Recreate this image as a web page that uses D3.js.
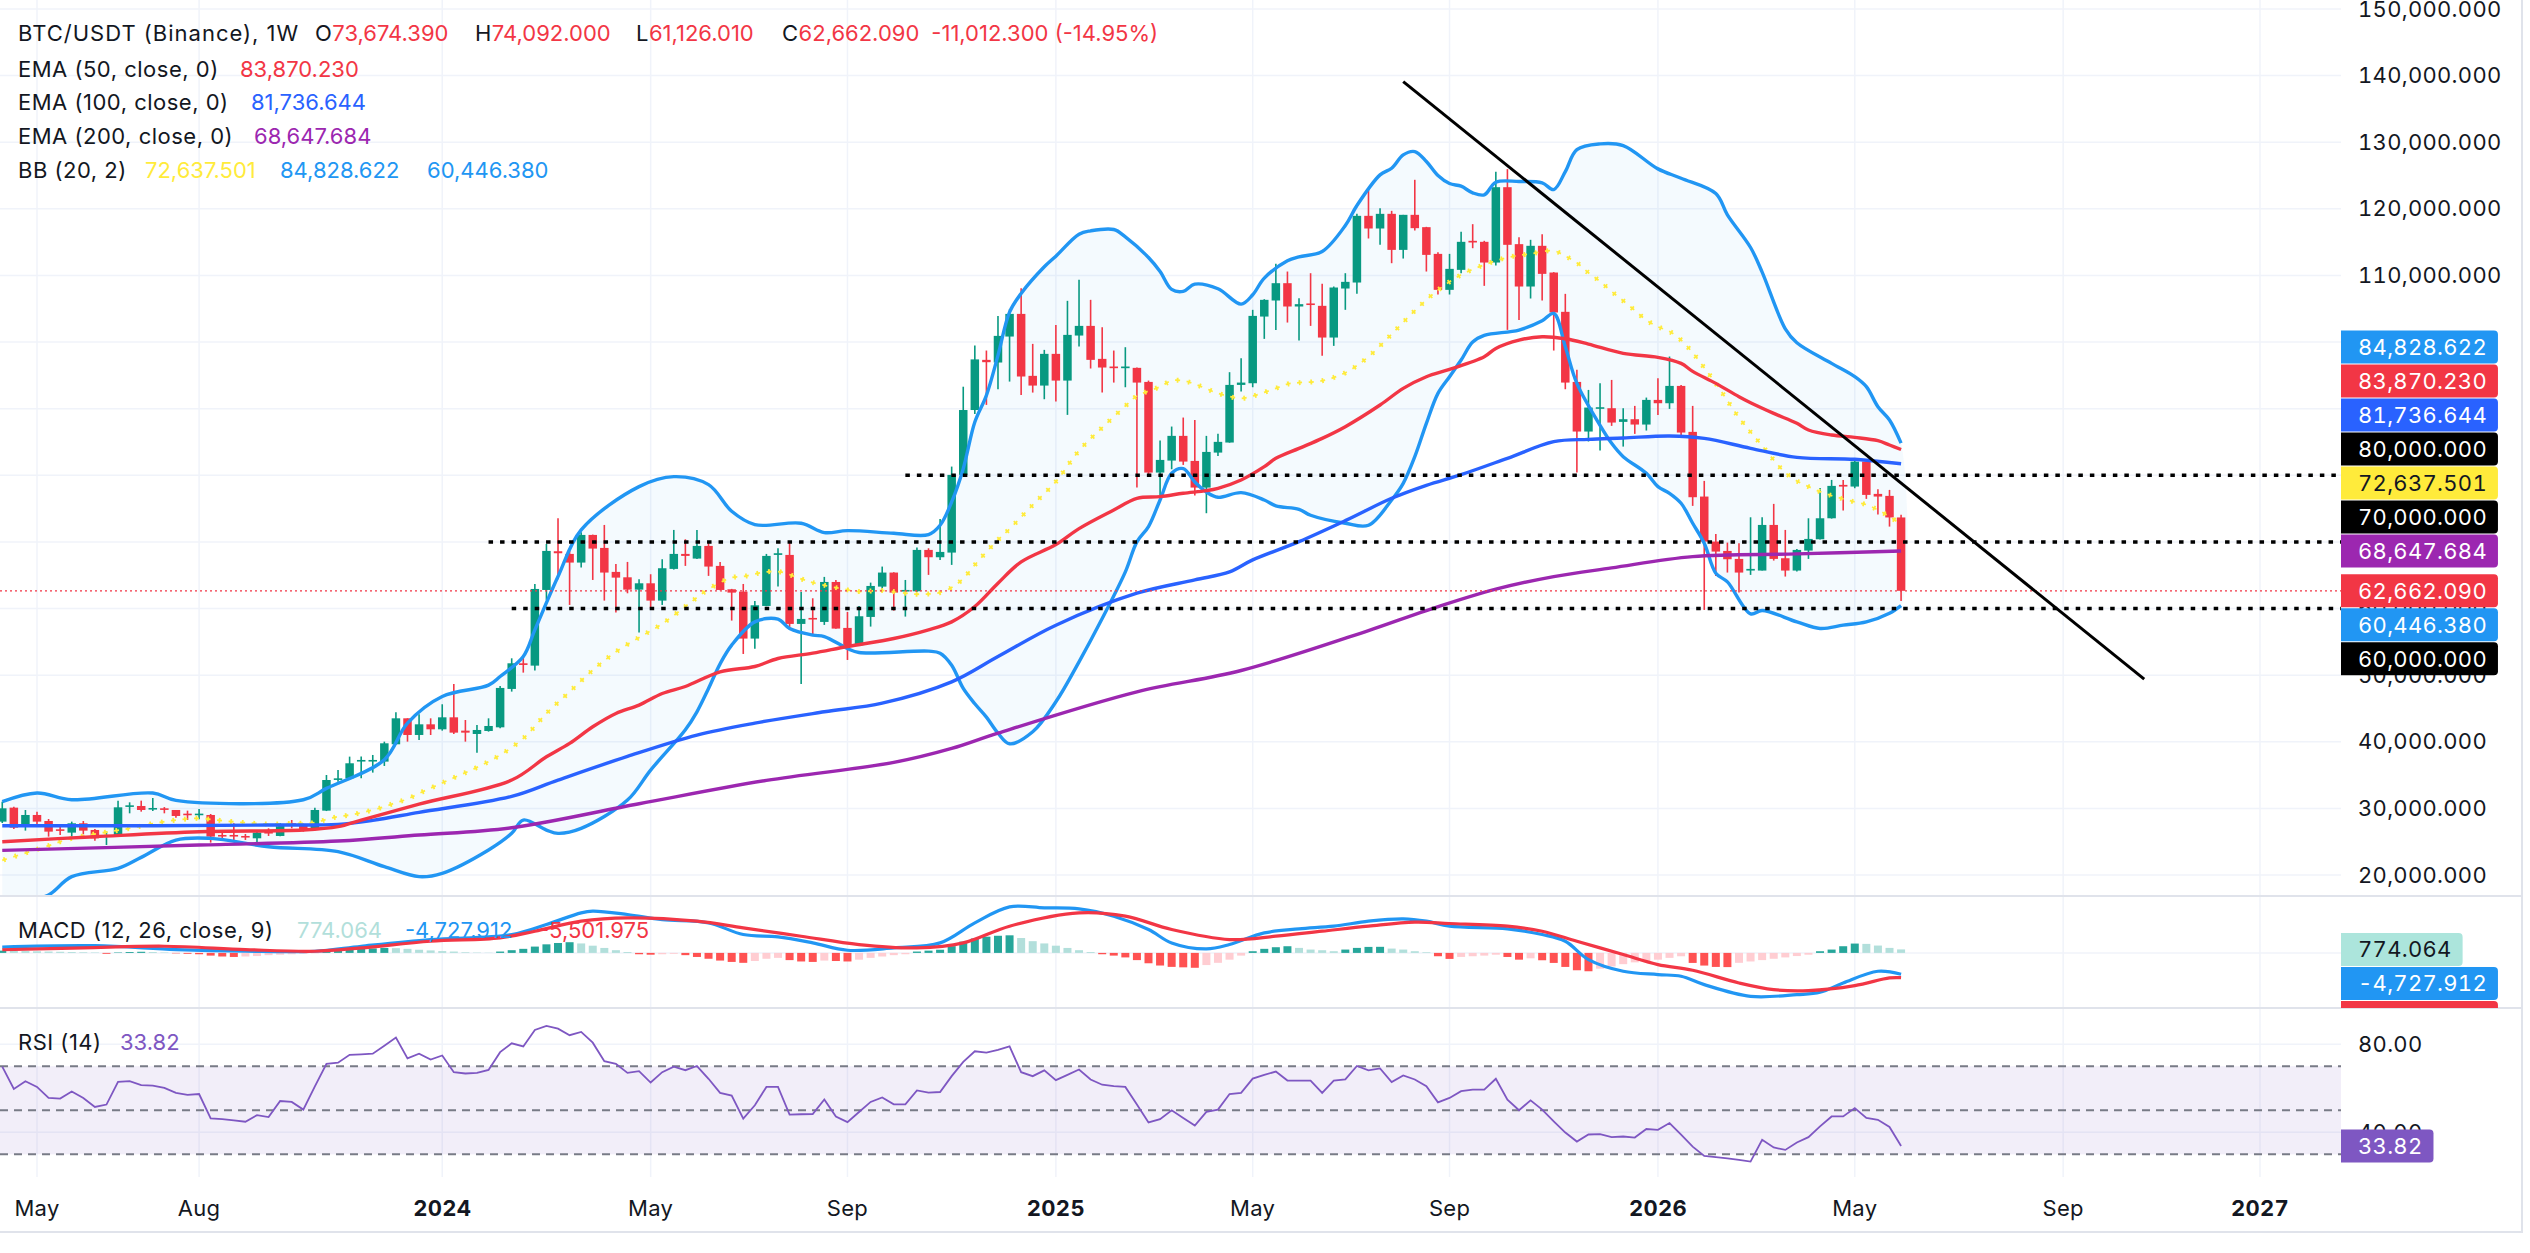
<!DOCTYPE html>
<html>
<head>
<meta charset="utf-8">
<script src="https://cdnjs.cloudflare.com/ajax/libs/d3/7.8.5/d3.min.js"></script>
<style>
  body { margin: 0; background: #fff; }
  svg { display: block; font-family: Inter, "Noto Sans", sans-serif; }
  .num { font-feature-settings: "tnum" 1; }
</style>
</head>
<body>
<div id="chart"></div>
<script>
/* BTC/USDT weekly candles with EMA, Bollinger bands, MACD and RSI panes */

// ---- data ----
// weekly candles [open, high, low, close], first bar is the week of 2023-04-10
var firstWeek = "2023-04-10";
var ohlc = [
  [28010,31010,27800,30010],[30110,30260,26910,27110],[27260,29760,26660,29010],[29010,29510,27410,28010],
  [28110,28410,25760,26510],[26860,27260,26010,26660],[26360,28010,25760,27760],[27760,28110,26110,26660],
  [26760,26910,25160,25510],[25760,26510,24500,25960],[25860,31160,25760,30160],[30260,30910,29260,30460],
  [30360,31160,29510,29760],[29910,31560,29610,30060],[30010,30200,29260,29860],[29760,29760,28610,28860],
  [29210,29660,28260,29010],[29010,29910,28360,29210],[29010,29160,24860,25760],[26010,26510,25160,25810],
  [26010,27760,25160,25810],[25860,26160,25260,25660],[25510,26660,24660,26360],[26460,27010,25860,26260],
  [25860,27760,25800,27660],[27760,28260,27010,27560],[27660,27700,26510,26660],[26760,30110,26700,29760],
  [29660,35010,29600,34260],[34310,35760,34010,34510],[34510,37770,34360,36770],[37070,37770,34510,37270],
  [37070,38020,35370,37270],[37020,40020,36370,39770],[39620,44420,39600,43520],[43520,43520,40020,41020],
  [41020,44120,40270,42620],[42620,43520,41020,41870],[41870,45630,41670,43670],[43670,48680,41170,41370],
  [41670,43270,40020,41370],[41170,42520,38370,41770],[41620,43520,41520,42370],[42170,48380,42020,48080],
  [47930,52530,47530,51780],[51780,52780,50380,51530],[51430,63690,50680,62940],[62790,69700,61290,68650],
  [68600,73550,64390,68300],[68200,68650,60540,66900],[66900,71450,66150,71050],[71050,71100,64290,69000],
  [69100,72550,61190,65400],[65500,66700,59390,64640],[64690,67000,62290,62840],[62840,64390,56390,63790],
  [63790,65150,60040,61190],[61190,67400,60540,66050],[65950,71800,65850,68200],[68200,70400,66400,67900],
  [67500,71800,67450,69400],[69400,69900,64900,66300],[66400,67000,62750,62790],[62890,62950,58190,62390],
  [62540,63690,53180,55490],[55490,61140,53980,60490],[60390,68200,60350,67900],[68050,69050,63290,68300],
  [68050,69900,56890,57690],[57690,62490,48680,58440],[58590,61540,55890,58390],[57990,64750,57540,63990],
  [63990,64290,56950,56990],[57090,59490,52280,54480],[54480,60390,54400,58840],[58740,63890,57290,63390],
  [63290,66300,62540,65400],[65400,65450,59690,62390],[62590,64290,58790,62790],[62590,69150,62500,68800],
  [68800,69050,65050,67700],[67700,73450,67300,68500],[68400,81310,66550,80060],[80060,93300,79800,89800],
  [89800,99500,89200,97400],[97330,98730,90570,96980],[96930,103930,92920,100930],[100830,104940,94070,104230],
  [104230,108090,92070,94830],[94930,99730,92420,93470],[93470,98830,91420,98230],[98230,102580,91070,94220],
  [94220,106190,89070,101080],[100980,109340,99330,102430],[102430,106340,96030,97330],[97480,102230,92420,96180],
  [96330,98730,93920,96080],[96080,99230,93220,96330],[96130,96200,78160,93920],[94020,94220,79810,80410],
  [80410,85220,76310,82310],[82210,87320,80910,85920],[85920,88670,81560,82060],[82160,88320,76960,78160],
  [78160,85920,74310,83510],[83410,86220,82910,85020],[84920,95480,84900,93570],[93570,97580,92570,93920],
  [93820,104840,93220,103930],[103830,106440,100480,106340],[106240,111740,101830,108840],[108840,110590,102930,105340],
  [105340,106590,100230,105690],[105800,110340,102430,105600],[105440,108740,97930,100680],[100680,108340,99430,108190],
  [108040,110340,104840,109040],[108940,119250,107240,118950],[118950,122950,115550,117050],[117050,120100,114600,119250],
  [119250,119700,111840,113840],[113840,119100,112540,119100],[119100,124360,116750,117100],[117250,117300,110590,113090],
  [113240,113490,107140,107840],[107840,113240,107140,110990],[110840,116550,110340,115050],[115200,117700,114090,114950],
  [115050,115200,108440,111940],[111940,125560,111490,123250],[123250,125960,101830,114600],[114700,115750,103330,108340],
  [108340,115350,106540,114450],[114450,116200,106240,110240],[110440,110500,98730,104440],[104540,107240,92920,93920],
  [94020,95830,80410,86570],[86570,92820,85070,90170],[90070,93820,83710,90220],[90070,94320,87420,87920],
  [88020,90070,84310,88420],[88420,90420,86220,87620],[87620,91670,86720,91320],[91320,94580,89070,90820],
  [90820,97830,89970,93420],[93420,93570,85920,86420],[86520,90420,75410,76710],[76810,79160,59790,70050],
  [70050,71200,64900,68550],[68650,69900,65400,67400],[67450,69800,62390,65400],[65700,73700,65050,65950],
  [65700,73700,65700,72550],[72550,75710,67200,67450],[67550,71800,64800,65700],[65700,68950,65550,68800],
  [68700,73550,67450,70450],[70400,78110,70350,73550],[73550,79310,73500,78410],[78560,79310,74710,78310],
  [78310,82560,78060,82060],[82060,82100,76460,77060],[77210,77910,74100,76810],[76910,77810,72300,73674.39],
  [73674.39,74092,61126.01,62662.09]
];

// line series as [week number counted from 2023-05-01, value]
var week0 = "2023-05-01";
var ema50 = [[-3,25000],[5,25750],[14,26500],[23,26750],[26,27250],[28,28250],[33,30650],[41,34250],[44,37750],
  [46,39750],[48,42250],[50,44250],[52,45500],[54,47250],[56,48300],[59,50500],[62,51300],[64,52500],[67,53300],
  [70,54300],[74,55500],[77,56800],[79,58000],[81,60300],[83,63800],[85,67000],[88,69600],[90,72000],[93,74800],
  [95,76550],[97,76800],[99,77300],[101,77700],[102,78050],[104,79300],[106,81300],[107,82550],[109,84050],
  [111,85550],[113,87300],[116,90550],[118,93050],[120,94800],[122,95900],[125,97800],[126,99050],[128,100300],
  [130,100800],[132,100500],[134,99700],[137,98300],[140,97700],[142,96800],[143,95600],[145,93800],[147,91800],
  [148,90900],[150,89300],[152,87800],[153,86800],[155,86050],[157,85700],[159,85200],[160,84550],[161,83870.23]];
var ema100 = [[-3,27400],[10,27400],[20,27500],[26,27600],[29,28200],[33,29400],[41,31800],[45,34250],[51,37800],
  [57,41000],[62,42800],[68,44500],[73,45800],[79,49000],[83,52800],[88,57500],[95,62300],[100,64300],[103,65500],
  [105,67300],[109,70050],[113,73200],[117,76550],[120,78500],[123,80100],[127,82550],[131,85050],[134,85400],
  [137,85600],[141,85900],[144,85550],[148,84050],[152,82700],[157,82400],[161,81736.644]];
var ema200 = [[-3,23700],[14,24500],[26,25100],[33,26000],[41,27100],[52,30700],[63,34200],[74,36900],[79,39000],
  [83,41300],[95,47500],[104,50700],[115,56700],[120,59700],[126,62900],[131,64800],[136,66100],[143,67800],
  [152,68200],[161,68647.684]];
var bbUpper = [[-3,31000],[0,32300],[3,31300],[10,32300],[12,31200],[23,31300],[25,33000],[30,37300],[32,42800],
  [35,46800],[39,48500],[40,49800],[42,52800],[43,56800],[45,64800],[47,71800],[52,78300],[55,79800],[58,78600],
  [60,74600],[62,72600],[66,72800],[68,71400],[70,71700],[74,71300],[77,71100],[78,72500],[79,76000],[80,81000],
  [81,88000],[82,92000],[83,98000],[84,104500],[85,107300],[87,111300],[88,112900],[90,116200],[91,116700],
  [93,116900],[94,115800],[96,112700],[97,110600],[98,107900],[99,107600],[100,108700],[102,108000],[104,105700],
  [105,107100],[106,109600],[108,112200],[109,112800],[111,113600],[113,117500],[114,120500],[116,125100],
  [117,126100],[118,128100],[119,128600],[120,127100],[121,125000],[122,123800],[123,123400],[124,122400],
  [125,122100],[126,124000],[128,124100],[130,123900],[131,122900],[132,125600],[133,128900],[135,129760],
  [137,129500],[140,126000],[142,124600],[145,122300],[146,119100],[148,114200],[149,110500],[151,102000],
  [152,99900],[155,96800],[157,94800],[158,93300],[159,90300],[160,88300],[161,84828.622]];
var bbLower = [[-3,14500],[-1,16000],[1,17000],[3,19750],[7,21000],[9,22650],[12,25250],[15,25500],[20,24250],
  [26,23500],[30,21250],[33,19750],[35,20250],[39,23750],[41,26250],[42,28250],[44,26750],[45,26250],[47,27000],
  [51,31250],[53,35750],[56,41800],[57,44500],[58,48000],[59,51700],[60,54500],[62,58000],[64,58400],[65,57000],
  [67,56000],[68,55800],[70,54000],[71,53400],[77,53600],[78,53300],[79,51500],[80,48000],[81,45700],[82,43700],
  [83,41300],[84,39700],[86,41500],[88,46000],[90,52000],[92,58500],[94,65500],[95,70000],[96,72300],[97,76300],
  [98,80300],[99,81000],[100,79000],[101,77500],[102,76700],[104,77400],[106,76300],[107,75400],[109,74900],
  [110,74000],[113,72800],[115,72500],[117,76300],[118,78800],[119,82800],[120,87800],[121,92300],[122,94800],
  [123,97300],[124,100000],[125,101000],[128,101800],[130,103200],[131,104300],[132,99300],[133,93800],
  [135,87500],[136,84800],[137,82800],[139,80300],[140,78300],[141,77300],[142,75800],[143,72800],[144,69800],
  [145,65300],[146,64000],[148,59200],[149,59700],[152,58000],[154,57000],[156,57500],[158,58000],[160,59300],
  [161,60446.38]];
var bbBasis = [[-3,22200],[-1,23300],[1,24400],[3,25500],[8,27000],[10,27700],[12,28250],[14,28500],[16,28150],
  [18,27850],[20,27650],[22,27750],[24,27850],[25,28350],[26,28750],[27,29000],[28,29350],[29,29750],[30,30250],
  [31,30850],[32,31400],[33,32250],[36,34600],[38,36150],[40,38000],[42,40500],[44,44250],[46,47500],[48,50750],
  [50,53500],[52,55650],[54,57700],[56,60300],[57,61650],[58,62900],[60,64650],[61,64800],[62,65200],[64,65550],
  [66,64450],[67,63900],[70,62800],[71,62550],[73,62700],[75,62300],[76,62150],[77,62200],[78,62400],[79,63150],
  [80,64500],[81,66550],[82,68500],[83,70300],[84,71950],[86,75550],[88,79050],[90,83700],[92,87150],[94,90400],
  [95,91900],[97,93300],[98,94200],[99,94200],[100,93700],[101,93000],[102,92300],[104,91550],[105,91900],
  [106,92450],[107,93050],[108,93700],[109,93900],[111,94200],[113,95400],[115,97800],[117,101200],[119,104700],
  [121,107800],[123,110100],[125,111600],[127,112700],[129,113250],[131,113700],[132,112900],[133,111900],
  [134,110400],[135,109100],[136,107600],[137,106200],[138,104750],[139,103300],[140,102300],[141,101600],
  [142,100300],[143,98400],[144,96150],[145,93800],[146,91200],[147,88650],[148,86500],[149,84450],[150,82300],
  [151,80400],[152,79150],[153,78300],[154,77550],[155,76950],[156,76450],[157,76000],[158,75600],[159,74800],
  [160,73800],[161,72637.501]];

// MACD pane
var macdLine = [[-3,1300],[5,1600],[12,740],[18,370],[24,370],[28,1480],[34,2960],[41,4070],[44,6300],[47,8890],
  [48,9260],[51,8520],[54,7400],[58,6670],[61,4070],[64,3550],[67,2220],[70,590],[74,1110],[78,2220],[81,6670],
  [84,10220],[87,10000],[90,9780],[93,8150],[96,5190],[98,2220],[101,890],[103,1850],[106,4440],[109,5330],
  [112,5930],[115,7040],[118,7560],[120,7040],[122,5930],[127,5330],[130,4070],[132,2590],[134,-1480],[137,-4070],
  [140,-4810],[142,-5190],[144,-7040],[148,-9630],[152,-9260],[154,-8740],[156,-6670],[159,-4070],[161,-4727.912]];
var signalLine = [[-3,700],[4,1110],[11,1480],[18,740],[24,370],[28,1110],[34,2590],[40,3330],[43,4815],[47,7040],
  [51,7780],[57,7040],[61,5555],[66,3700],[71,1850],[76,1110],[80,2220],[84,5925],[90,8890],[94,8150],[98,5185],
  [103,2963],[107,3704],[111,4815],[115,5925],[119,6814],[122,6518],[127,5925],[130,4815],[133,2593],[137,-370],
  [140,-2593],[143,-3852],[147,-6667],[150,-8148],[153,-8370],[157,-7259],[160,-5555],[161,-5501.975]];
// histogram, one value per candle
var macdHist = [500,450,400,350,300,250,200,150,100,
  -200,100,200,250,200,
  100,-100,-200,-300,-600,-800,-900,-800,-700,-500,-400,-300,-200,-100,
  250,500,700,900,1000,1100,1050,900,700,550,400,300,150,80,50,
  300,600,900,1400,1900,2200,2370,2100,1600,1100,600,200,
  -300,-400,-300,-200,-500,-900,-1300,-1700,-2000,-2200,
  -1800,-1300,-1100,-1600,-1900,-2000,-1700,-1800,-1900,-1500,-1100,-800,-500,-300,
  300,500,700,1500,2500,3200,3600,3800,3900,3300,2600,2100,1600,1100,600,200,
  -300,-600,-1000,-1600,-2300,-2800,-3100,-3200,-3300,-2700,-2200,-1500,-600,
  370,900,1260,1480,1110,740,590,370,740,1110,1330,1350,960,740,370,150,
  -740,-1330,-890,-740,-600,-400,-900,-1500,-1200,-1630,-2220,-3110,-3850,-4070,-3500,-3000,-2500,-2100,-1800,-1500,-1100,-750,
  -2220,-2810,-3110,-3150,-2200,-1900,-1600,-1300,-1000,-700,-400,
  370,740,1480,2070,2000,1630,1110,774.064];

// RSI, one value per candle
var rsi = [69.8,59.7,63.2,60.6,55.6,55.3,58.5,55.6,51.5,52.6,62.9,63.2,61.4,
  61.2,60.2,57.9,57.0,57.4,46.3,46.0,45.4,44.8,47.8,46.9,54.2,53.8,50.3,60.9,
  71.1,71.6,75.2,75.4,75.7,79.3,83.0,73.6,75.7,73.0,74.9,67.3,66.7,67.0,68.3,
  76.4,80.4,79.0,86.5,88.3,87.1,84.1,85.6,80.7,72.3,71.1,67.0,67.8,62.6,67.3,
  69.8,68.2,70.1,64.3,57.9,56.7,46.2,52.3,60.6,60.6,48.0,48.2,48.3,54.9,47.2,
  44.6,49.2,53.8,55.8,52.7,52.7,59.0,58.0,58.3,65.5,72.0,76.8,76.2,77.4,79.0,
  67.3,65.5,68.1,63.7,66.1,68.5,64.0,61.6,61.0,60.6,52.6,44.5,46.0,50.0,46.5,
  43.1,49.3,50.3,57.4,57.9,64.4,66.1,67.6,63.5,63.5,63.5,57.9,63.5,64.0,70.1,
  68.1,69.0,62.8,65.8,64.0,60.9,53.6,55.6,58.7,59.4,59.4,64.3,54.8,50.0,54.5,
  50.3,45.0,39.9,35.8,39.0,39.2,37.8,38.1,37.6,41.5,41.1,44.2,38.9,33.5,29.3,
  28.7,28.2,27.5,26.7,36.6,33.1,32.0,35.4,37.8,42.7,47.2,47.2,51.0,46.5,45.7,42.4,33.82];

// drawings: horizontal levels [start week, price] and the falling trend line
var levels = [[75, 80000], [39, 70000], [41, 60000]];
var trendLine = [[118, 139100], [182, 49400]];

// axis ticks
var priceTicks = d3.range(20000, 150001, 10000);
var timeTicks = [["2023-05-01","May"],["2023-08-07","Aug"],["2024-01-01","2024"],["2024-05-06","May"],
  ["2024-09-02","Sep"],["2025-01-06","2025"],["2025-05-05","May"],["2025-09-01","Sep"],["2026-01-05","2026"],
  ["2026-05-04","May"],["2026-09-07","Sep"],["2027-01-04","2027"]];

// ---- layout ----
var W = 2530, H = 1253;
var paneR = 2341;
var mainP = {top: 0, bottom: 895};
var macdP = {top: 897, bottom: 1007};
var rsiP = {top: 1009, bottom: 1177};
var upC = "#089981", downC = "#f23645";
var textC = "#131722", gridC = "#f0f3fa";
var loc = d3.formatLocale({decimal: ".", thousands: ",", grouping: [3], currency: ["$", ""], minus: "-"});
var fmt = loc.format(",.3f");
var fmt2 = loc.format(".2f");
var axisFont = 22, legFont = 22;

var parse = d3.utcParse("%Y-%m-%d");
var d0 = parse(week0);
var dFirst = parse(firstWeek);
function wk(i) { return d3.utcDay.offset(d0, 7 * i); }

var svg = d3.select("#chart").append("svg")
    .attr("width", W)
    .attr("height", H);

var x = d3.scaleUtc()
    .domain([d0, parse("2027-01-04")])
    .range([37, 2260]);
var y = d3.scaleLinear().domain([20000, 150000]).range([875, 9]);
var yM = d3.scaleLinear().domain([-12000, 12400]).range([macdP.bottom, macdP.top]);
var yR = d3.scaleLinear().domain([19.7, 96]).range([rsiP.bottom, rsiP.top]);

var candles = ohlc.map(function (d, k) {
  return {date: d3.utcDay.offset(dFirst, 7 * k), o: d[0], h: d[1], l: d[2], c: d[3]};
});

// clip paths for the panes
var defs = svg.append("defs");
[["clipMain", mainP], ["clipMacd", macdP], ["clipRsi", rsiP]].forEach(function (c) {
  defs.append("clipPath").attr("id", c[0]).append("rect")
      .attr("x", 0).attr("y", c[1].top).attr("width", paneR).attr("height", c[1].bottom - c[1].top);
});
defs.append("clipPath").attr("id", "clipMacdAxis").append("rect")
    .attr("x", paneR).attr("y", macdP.top).attr("width", 200).attr("height", macdP.bottom - macdP.top + 1);

// ---- grid ----
var grid = svg.append("g");
[mainP, macdP, rsiP].forEach(function (p) {
  grid.selectAll(null).data(timeTicks).join("line")
      .attr("x1", function (d) { return x(parse(d[0])); })
      .attr("x2", function (d) { return x(parse(d[0])); })
      .attr("y1", p.top).attr("y2", p.bottom)
      .attr("stroke", gridC).attr("stroke-width", 1.5);
});
grid.selectAll(null).data(priceTicks).join("line")
    .attr("x1", 0).attr("x2", paneR)
    .attr("y1", function (d) { return y(d); }).attr("y2", function (d) { return y(d); })
    .attr("stroke", gridC).attr("stroke-width", 1.5);
grid.selectAll(null).data([80, 40]).join("line")
    .attr("x1", 0).attr("x2", paneR)
    .attr("y1", function (d) { return yR(d); }).attr("y2", function (d) { return yR(d); })
    .attr("stroke", gridC).attr("stroke-width", 1.5);
grid.append("line").attr("x1", 0).attr("x2", paneR)
    .attr("y1", yM(0)).attr("y2", yM(0))
    .attr("stroke", gridC).attr("stroke-width", 1.5);

// ---- main pane ----
var gMain = svg.append("g").attr("clip-path", "url(#clipMain)");
var curve = d3.curveCatmullRom.alpha(0.5);
function priceLine(sy) {
  return d3.line().x(function (d) { return x(wk(d[0])); }).y(function (d) { return sy(d[1]); }).curve(curve);
}
var pl = priceLine(y);

// bollinger fill
gMain.append("path")
    .attr("d", pl(bbUpper.concat(bbLower.slice().reverse())) + "Z")
    .attr("fill", "rgba(33,150,243,0.05)");

// candles
var bw = 8.5;
var cg = gMain.append("g");
cg.selectAll("line").data(candles).join("line")
    .attr("x1", function (d) { return x(d.date); })
    .attr("x2", function (d) { return x(d.date); })
    .attr("y1", function (d) { return y(d.h); })
    .attr("y2", function (d) { return y(d.l); })
    .attr("stroke", function (d) { return d.c >= d.o ? upC : downC; })
    .attr("stroke-width", 1.6);
cg.selectAll("rect").data(candles).join("rect")
    .attr("x", function (d) { return x(d.date) - bw / 2; })
    .attr("width", bw)
    .attr("y", function (d) { return y(Math.max(d.o, d.c)); })
    .attr("height", function (d) { return Math.max(1.6, Math.abs(y(d.o) - y(d.c))); })
    .attr("fill", function (d) { return d.c >= d.o ? upC : downC; });

// bollinger basis drawn as small crosses
gMain.append("path").attr("d", pl(bbBasis)).attr("fill", "none")
    .attr("stroke", "#ffeb3b").attr("stroke-width", 1.8).attr("stroke-dasharray", "5 6.578");
gMain.append("path").attr("d", pl(bbBasis)).attr("fill", "none")
    .attr("stroke", "#ffeb3b").attr("stroke-width", 5)
    .attr("stroke-dasharray", "1.8 9.778").attr("stroke-dashoffset", -1.6);

// bands and moving averages
[[bbUpper, "#2196f3"], [bbLower, "#2196f3"], [ema200, "#9c27b0"], [ema100, "#2962ff"], [ema50, "#f23645"]]
  .forEach(function (s) {
    gMain.append("path").attr("d", pl(s[0])).attr("fill", "none")
        .attr("stroke", s[1]).attr("stroke-width", 3.4).attr("stroke-linejoin", "round");
  });

// last price line
var last = candles[candles.length - 1];
gMain.append("line").attr("x1", 0).attr("x2", paneR)
    .attr("y1", y(last.c)).attr("y2", y(last.c))
    .attr("stroke", downC).attr("stroke-width", 1.2).attr("stroke-dasharray", "2 3");

// horizontal levels and trend line
gMain.selectAll(".lvl").data(levels).join("line")
    .attr("x1", function (d) { return x(wk(d[0])); }).attr("x2", paneR)
    .attr("y1", function (d) { return y(d[1]); }).attr("y2", function (d) { return y(d[1]); })
    .attr("stroke", "#000").attr("stroke-width", 3.5).attr("stroke-dasharray", "4.5 7");
gMain.append("line")
    .attr("x1", x(wk(trendLine[0][0]))).attr("y1", y(trendLine[0][1]))
    .attr("x2", x(wk(trendLine[1][0]))).attr("y2", y(trendLine[1][1]))
    .attr("stroke", "#000").attr("stroke-width", 3);

// ---- MACD pane ----
var gMacd = svg.append("g").attr("clip-path", "url(#clipMacd)");
var histData = macdHist.map(function (v, k) {
  var prev = k > 0 ? macdHist[k - 1] : v;
  var col = v >= 0 ? (v >= prev ? "#26a69a" : "#b2dfdb") : (v <= prev ? "#ff5252" : "#ffcdd2");
  return {date: d3.utcDay.offset(dFirst, 7 * k), v: v, col: col};
});
gMacd.selectAll("rect").data(histData).join("rect")
    .attr("x", function (d) { return x(d.date) - 4; })
    .attr("width", 8)
    .attr("y", function (d) { return Math.min(yM(d.v), yM(0)); })
    .attr("height", function (d) { return Math.abs(yM(d.v) - yM(0)); })
    .attr("fill", function (d) { return d.col; });
var ml = priceLine(yM);
gMacd.append("path").attr("d", ml(macdLine)).attr("fill", "none")
    .attr("stroke", "#2196f3").attr("stroke-width", 3.2);
gMacd.append("path").attr("d", ml(signalLine)).attr("fill", "none")
    .attr("stroke", "#f23645").attr("stroke-width", 3.2);

// ---- RSI pane ----
var gRsi = svg.append("g").attr("clip-path", "url(#clipRsi)");
gRsi.append("rect").attr("x", 0).attr("width", paneR)
    .attr("y", yR(70)).attr("height", yR(30) - yR(70))
    .attr("fill", "rgba(126,87,194,0.1)");
gRsi.selectAll(".band").data([70, 50, 30]).join("line")
    .attr("x1", 0).attr("x2", paneR)
    .attr("y1", function (d) { return yR(d); }).attr("y2", function (d) { return yR(d); })
    .attr("stroke", "#787b86").attr("stroke-width", 2).attr("stroke-dasharray", "8 6");
gRsi.append("path")
    .attr("d", d3.line()
      .x(function (d, k) { return x(d3.utcDay.offset(dFirst, 7 * k)); })
      .y(function (d) { return yR(d); })(rsi))
    .attr("fill", "none").attr("stroke", "#7e57c2").attr("stroke-width", 1.8);

// ---- separators and borders ----
svg.append("rect").attr("x", 0).attr("y", 895).attr("width", 2522).attr("height", 2).attr("fill", "#e0e3eb");
svg.append("rect").attr("x", 0).attr("y", 1007).attr("width", 2522).attr("height", 2).attr("fill", "#e0e3eb");
svg.append("rect").attr("x", 0).attr("y", 1231).attr("width", 2522).attr("height", 2).attr("fill", "#e0e3eb");
svg.append("rect").attr("x", 2521).attr("y", 0).attr("width", 2).attr("height", 1233).attr("fill", "#e0e3eb");

// ---- value tags on the right (computed first so covered tick labels can be skipped) ----
var tagH = 34;
function stackTags(tags, sy, anchor) {
  tags.forEach(function (t) { t.y = sy(t.v); });
  for (var k = anchor - 1; k >= 0; k--) tags[k].y = Math.min(tags[k].y, tags[k + 1].y - tagH);
  for (var j = anchor + 1; j < tags.length; j++) tags[j].y = Math.max(tags[j].y, tags[j - 1].y + tagH);
  return tags;
}
var mainTags = stackTags([
  {v: bbUpper[bbUpper.length - 1][1], bg: "#2196f3"},
  {v: ema50[ema50.length - 1][1], bg: "#f23645"},
  {v: ema100[ema100.length - 1][1], bg: "#2962ff"},
  {v: 80000, bg: "#000"},
  {v: bbBasis[bbBasis.length - 1][1], bg: "#ffeb3b", fg: textC},
  {v: 70000, bg: "#000"},
  {v: ema200[ema200.length - 1][1], bg: "#9c27b0"},
  {v: last.c, bg: "#f23645"},
  {v: bbLower[bbLower.length - 1][1], bg: "#2196f3"},
  {v: 60000, bg: "#000"}
], y, 7);
var rsiTags = stackTags([{v: rsi[rsi.length - 1], bg: "#7e57c2"}], yR, 0);
var macdTags = stackTags([
  {v: macdHist[macdHist.length - 1], bg: "#ace5dc", fg: textC},
  {v: macdLine[macdLine.length - 1][1], bg: "#2196f3"},
  {v: signalLine[signalLine.length - 1][1], bg: "#f23645"}
], yM, 0);

function hidden(yy, tags) {
  return tags.some(function (t) { return Math.abs(t.y - yy) < tagH / 2 - 4; });
}

// ---- axes ----
var yAxis = svg.append("g").attr("class", "num").attr("transform", "translate(" + paneR + ",0)")
    .call(d3.axisRight(y)
      .tickValues(priceTicks.filter(function (v) { return !hidden(y(v), mainTags); }))
      .tickFormat(fmt).tickSize(0).tickPadding(17));
yAxis.select(".domain").remove();
yAxis.selectAll("text").attr("font-size", axisFont).attr("fill", textC)
    .attr("font-family", "Inter").attr("letter-spacing", 0.3);

var rAxis = svg.append("g").attr("class", "num").attr("transform", "translate(" + paneR + ",0)")
    .call(d3.axisRight(yR).tickValues([80, 40]).tickFormat(fmt2).tickSize(0).tickPadding(17));
rAxis.select(".domain").remove();
rAxis.selectAll("text").attr("font-size", axisFont).attr("fill", textC)
    .attr("font-family", "Inter").attr("letter-spacing", 0.3);

svg.append("g").attr("class", "num").selectAll("text").data(timeTicks).join("text")
    .attr("x", function (d) { return x(parse(d[0])); })
    .attr("y", 1208)
    .attr("text-anchor", "middle")
    .attr("dominant-baseline", "central")
    .attr("font-size", axisFont)
    .attr("letter-spacing", 0.3)
    .attr("font-weight", function (d) { return /^\d/.test(d[1]) ? 700 : 400; })
    .attr("fill", textC)
    .text(function (d) { return d[1]; });

// ---- draw tags ----
function tagPath(x0, y0, w, h, r) {
  return "M" + x0 + "," + y0 + "H" + (x0 + w - r) + "Q" + (x0 + w) + "," + y0 + " " + (x0 + w) + "," + (y0 + r) +
    "V" + (y0 + h - r) + "Q" + (x0 + w) + "," + (y0 + h) + " " + (x0 + w - r) + "," + (y0 + h) + "H" + x0 + "Z";
}
function drawTags(g, tags, format) {
  tags.forEach(function (t) {
    var tg = g.append("g").attr("class", "num");
    var path = tg.append("path").attr("fill", t.bg);
    var txt = tg.append("text")
        .attr("x", paneR + 17).attr("y", t.y)
        .attr("dominant-baseline", "central")
        .attr("font-size", axisFont)
        .attr("letter-spacing", 0.3)
        .attr("fill", t.fg || "#fff")
        .text(format(t.v));
    var w = txt.node().getComputedTextLength() + 28;
    path.attr("d", tagPath(paneR, t.y - tagH / 2 + 0.5, w, tagH - 1, 4));
  });
}
drawTags(svg.append("g"), mainTags, fmt);
drawTags(svg.append("g").attr("clip-path", "url(#clipMacdAxis)"), macdTags, fmt);
drawTags(svg.append("g"), rsiTags, fmt2);

// ---- legends: parts are [text, colour, absolute x, dx, letter spacing] ----
function legend(yy, parts) {
  var t = svg.append("text").attr("y", yy)
      .attr("dominant-baseline", "central").attr("font-size", legFont);
  parts.forEach(function (p) {
    var s = t.append("tspan").attr("fill", p[1]).text(p[0])
        .attr("letter-spacing", p[1] === textC ? 0.5 : 0);
    if (p[2] != null) s.attr("x", p[2]);
    if (p[3]) s.attr("dx", p[3]);
    if (p[4] != null) s.attr("letter-spacing", p[4]);
  });
}
var prev = candles[candles.length - 2].c;
var chg = last.c - prev;
legend(33, [["BTC/USDT (Binance), 1W", textC, 18, 0, 1.0],
  ["O", textC, 315], [fmt(last.o), downC], ["H", textC, 475], [fmt(last.h), downC],
  ["L", textC, 636], [fmt(last.l), downC], ["C", textC, 782], [fmt(last.c), downC],
  [fmt(chg) + " (" + loc.format(".2%")(chg / prev) + ")", downC, null, 12]]);
legend(69, [["EMA (50, close, 0)", textC, 18], [fmt(ema50[ema50.length - 1][1]), "#f23645", 240]]);
legend(102, [["EMA (100, close, 0)", textC, 18], [fmt(ema100[ema100.length - 1][1]), "#2962ff", 251]]);
legend(136, [["EMA (200, close, 0)", textC, 18], [fmt(ema200[ema200.length - 1][1]), "#9c27b0", 254]]);
legend(170, [["BB (20, 2)", textC, 18], [fmt(bbBasis[bbBasis.length - 1][1]), "#ffeb3b", 145],
  [fmt(bbUpper[bbUpper.length - 1][1]), "#2196f3", 280], [fmt(bbLower[bbLower.length - 1][1]), "#2196f3", 427]]);
legend(930, [["MACD (12, 26, close, 9)", textC, 18], [fmt(macdHist[macdHist.length - 1]), "#b2dfdb", 297],
  [fmt(macdLine[macdLine.length - 1][1]), "#2196f3", 405], [fmt(signalLine[signalLine.length - 1][1]), "#f23645", 539]]);
legend(1042, [["RSI (14)", textC, 18], [fmt2(rsi[rsi.length - 1]), "#7e57c2", 120]]);
</script>
</body>
</html>
